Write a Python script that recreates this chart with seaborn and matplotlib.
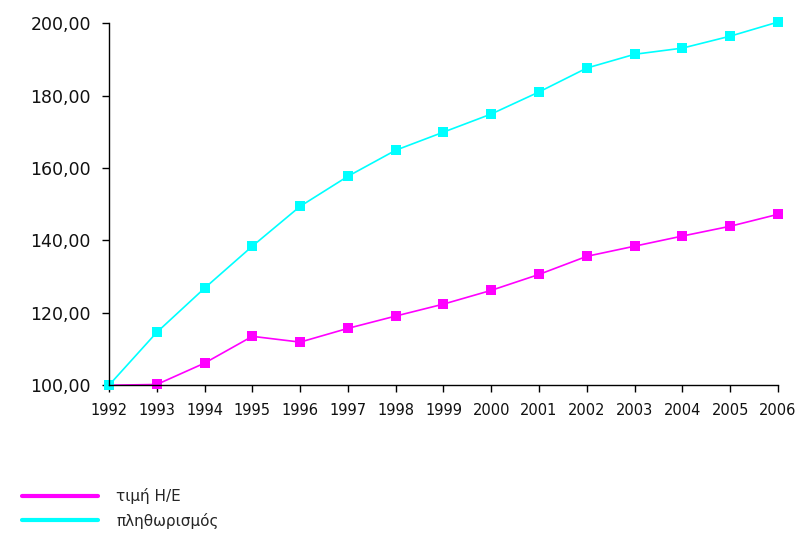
import matplotlib
matplotlib.use("Agg")
import matplotlib.pyplot as plt
from matplotlib.lines import Line2D
from matplotlib.ticker import FuncFormatter
import seaborn as sns
import pandas as pd

years = list(range(1992, 2007))
price_index = [100.0, 100.2, 106.1, 113.5, 111.9, 115.7, 119.1, 122.4,
               126.2, 130.6, 135.6, 138.4, 141.2, 143.9, 147.2]
inflation_index = [100.0, 114.6, 126.8, 138.4, 149.4, 157.7, 164.9, 169.9,
                   174.9, 181.0, 187.6, 191.4, 193.1, 196.4, 200.3]
series_names = ["τιμή Η/Ε", "πληθωρισμός"]
series_colors = ["#ff00ff", "#00ffff"]

df = pd.DataFrame({
    "year": years * 2,
    "value": price_index + inflation_index,
    "series": [series_names[0]] * len(years) + [series_names[1]] * len(years),
})

sns.set_style("white")
plt.rcParams["font.family"] = ["DejaVu Sans"]

fig = plt.figure(figsize=(7.99, 5.38), dpi=100)
ax = fig.add_axes([0.1364, 0.284, 0.8373, 0.673])

sns.lineplot(data=df, x="year", y="value", hue="series",
             palette=dict(zip(series_names, series_colors)),
             marker="s", markersize=7, markeredgewidth=0, linewidth=1.2,
             legend=False, ax=ax)
for line in ax.lines:
    line.set_clip_on(False)

ax.set_xlim(1992, 2006)
ax.set_ylim(100, 200)
ax.set_xticks(years)
ax.set_yticks(range(100, 201, 20))
ax.yaxis.set_major_formatter(FuncFormatter(lambda v, p: f"{v:.2f}".replace(".", ",")))
ax.set_xlabel("")
ax.set_ylabel("")
for s in ["top", "right"]:
    ax.spines[s].set_visible(False)
for s in ["left", "bottom"]:
    ax.spines[s].set_color("black")
    ax.spines[s].set_linewidth(1.0)
ax.tick_params(axis="both", direction="out", length=5, width=1,
               color="black", labelcolor="#111111", bottom=True, left=True)
ax.tick_params(axis="y", labelsize=12.5, pad=8)
ax.tick_params(axis="x", labelsize=10.5, pad=8)

handles = [Line2D([0], [0], color=c, linewidth=3) for c in series_colors]
fig.legend(handles, series_names, loc="lower left", bbox_to_anchor=(0.01, -0.008),
           frameon=False, fontsize=11, handlelength=5.0, handletextpad=1.2,
           labelspacing=0.55)

fig.savefig("out.png", dpi=100)
